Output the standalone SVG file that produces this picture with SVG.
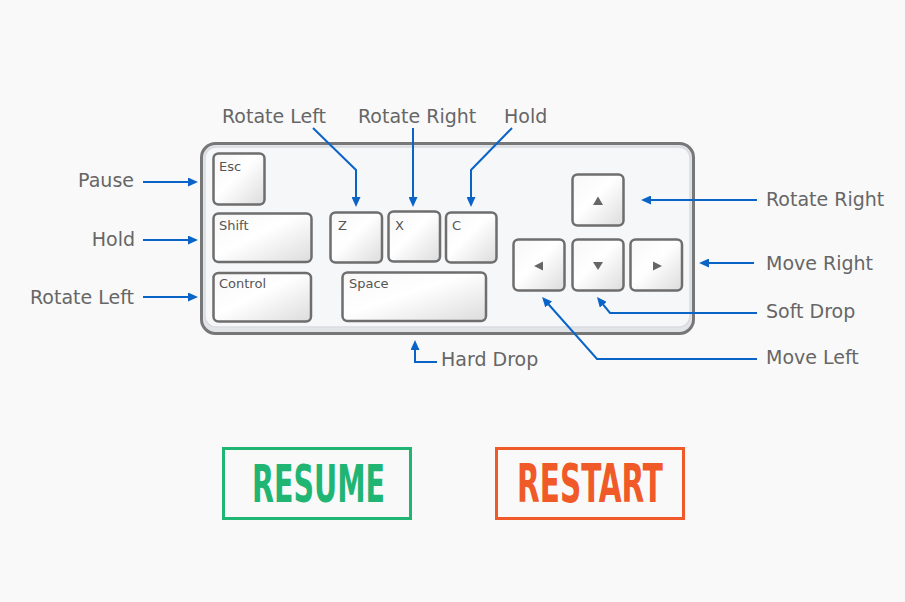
<svg xmlns="http://www.w3.org/2000/svg" width="905" height="602" viewBox="0 0 905 602">
  <style>
    .lbl { font-family: "DejaVu Sans", Verdana, sans-serif; font-size: 19px; fill: #666; }
    .end { text-anchor: end; }
    .key { fill: url(#keyGrad); stroke: #6e6e6e; stroke-width: 2.5; }
    .klbl { font-family: "DejaVu Sans", Verdana, sans-serif; font-size: 13px; fill: #555; }
    .glyph { fill: #666; }
    .conn { fill: none; stroke: #0a64c8; stroke-width: 2; marker-end: url(#ah); }
    .btntxt { font-family: "DejaVu Sans Condensed", "DejaVu Sans", sans-serif; font-weight: bold; }
  </style>
  <defs>
    <linearGradient id="keyGrad" x1="0" y1="0" x2="1" y2="1">
      <stop offset="0" stop-color="#f7f7f7"/>
      <stop offset="0.45" stop-color="#ffffff"/>
      <stop offset="1" stop-color="#dcdcdc"/>
    </linearGradient>
    <marker id="ah" viewBox="0 0 10 10" refX="6" refY="5" markerWidth="10" markerHeight="9" markerUnits="userSpaceOnUse" orient="auto" preserveAspectRatio="none">
      <path d="M0 0 L10 5 L0 10 Z" fill="#0a64c8"/>
    </marker>
  </defs>
  <rect x="0" y="0" width="905" height="602" fill="#f9f9f9"/>

  <g id="keyboard">
    <rect x="201.5" y="143.5" width="492" height="190" rx="14" fill="#e2e4e8" stroke="#777" stroke-width="3"/>
    <rect x="205" y="147" width="485" height="180" rx="11" fill="#f6f7f9" stroke="#d9dbdf" stroke-width="1.5"/>
  </g>

  <g id="key-esc"><rect class="key" x="213.5" y="153.5" width="51" height="51" rx="5"/><text class="klbl" x="219" y="171">Esc</text></g>
  <g id="key-shift"><rect class="key" x="213.5" y="213.5" width="98" height="48.5" rx="5"/><text class="klbl" x="219" y="230">Shift</text></g>
  <g id="key-control"><rect class="key" x="213.5" y="273" width="97.5" height="48.5" rx="5"/><text class="klbl" x="219" y="288">Control</text></g>
  <g id="key-z"><rect class="key" x="330.5" y="212.5" width="51.5" height="50" rx="5"/><text class="klbl" x="338" y="230">Z</text></g>
  <g id="key-x"><rect class="key" x="388.5" y="211.5" width="51.5" height="50" rx="5"/><text class="klbl" x="395" y="230">X</text></g>
  <g id="key-c"><rect class="key" x="446" y="212.5" width="50.5" height="50" rx="5"/><text class="klbl" x="452" y="230">C</text></g>
  <g id="key-space"><rect class="key" x="342.5" y="272.5" width="143.5" height="48.5" rx="5"/><text class="klbl" x="349" y="288">Space</text></g>
  <g id="key-up"><rect class="key" x="572.5" y="174.5" width="51" height="51" rx="5"/><polygon class="glyph" points="598,196.5 593,205 603,205"/></g>
  <g id="key-left"><rect class="key" x="513.5" y="239.5" width="51" height="51" rx="5"/><polygon class="glyph" points="534,266 543,261.5 543,270.5"/></g>
  <g id="key-down"><rect class="key" x="572.5" y="239.5" width="51" height="51" rx="5"/><polygon class="glyph" points="593,262 603,262 598,270"/></g>
  <g id="key-right"><rect class="key" x="630.5" y="239.5" width="51.5" height="51" rx="5"/><polygon class="glyph" points="662,266 653,261.5 653,270.5"/></g>

  <g id="labels">
    <text class="lbl" x="222" y="123">Rotate Left</text>
    <text class="lbl" x="358" y="123">Rotate Right</text>
    <text class="lbl" x="504" y="123">Hold</text>
    <text class="lbl end" x="134" y="187">Pause</text>
    <text class="lbl end" x="135" y="246">Hold</text>
    <text class="lbl end" x="134" y="304">Rotate Left</text>
    <text class="lbl" x="766" y="206">Rotate Right</text>
    <text class="lbl" x="766" y="270">Move Right</text>
    <text class="lbl" x="766" y="318">Soft Drop</text>
    <text class="lbl" x="766" y="364">Move Left</text>
    <text class="lbl" x="441" y="366">Hard Drop</text>
  </g>

  <g id="connectors">
    <path class="conn" d="M143 182 H194"/>
    <path class="conn" d="M143 240 H194"/>
    <path class="conn" d="M143 297 H194"/>
    <path class="conn" d="M313 128 L356 170 V203"/>
    <path class="conn" d="M413 128 V203"/>
    <path class="conn" d="M512 128 L471 170 V203"/>
    <path class="conn" d="M757 200 H645"/>
    <path class="conn" d="M754 263 H703"/>
    <path class="conn" d="M757 313 H610 L599.5 300.1"/>
    <path class="conn" d="M757 359 H597 L544.7 300"/>
    <path class="conn" d="M437 362 H415 V344"/>
  </g>

  <g id="btn-resume">
    <rect x="223.5" y="448.5" width="187" height="70" fill="none" stroke="#21b573" stroke-width="3"/>
    <text class="btntxt" x="252" y="502" font-size="52" fill="#21b573" textLength="133" lengthAdjust="spacingAndGlyphs">RESUME</text>
  </g>
  <g id="btn-restart">
    <rect x="496.5" y="448.5" width="187" height="70" fill="none" stroke="#f05a28" stroke-width="3"/>
    <text class="btntxt" x="517" y="502" font-size="54" fill="#f05a28" textLength="146" lengthAdjust="spacingAndGlyphs">RESTART</text>
  </g>
</svg>
